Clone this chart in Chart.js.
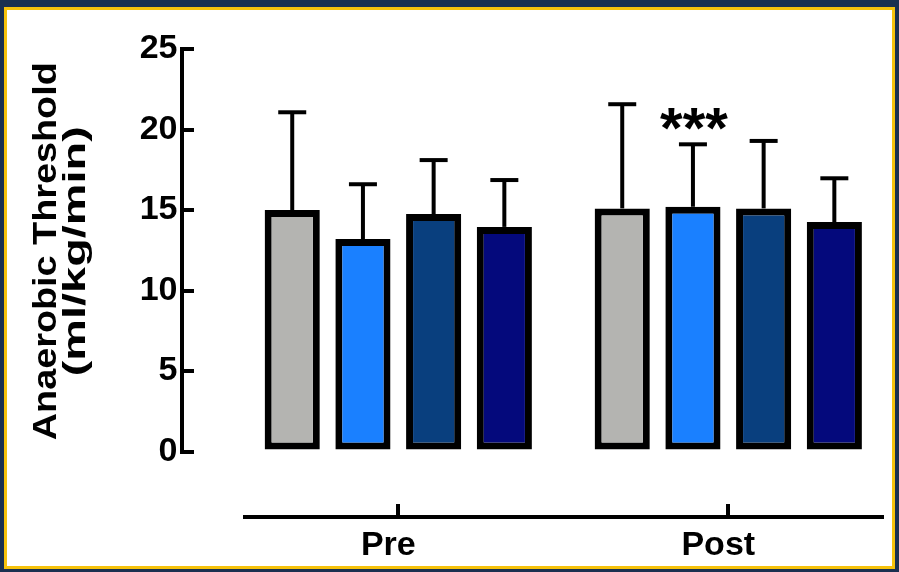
<!DOCTYPE html>
<html>
<head>
<meta charset="utf-8">
<script src="https://cdn.jsdelivr.net/npm/chart.js@4.4.1/dist/chart.umd.min.js"></script>
<style>
  html, body { margin: 0; padding: 0; }
  body { width: 899px; height: 572px; background: #1a3050; position: relative; overflow: hidden; }
  #frame { position: absolute; left: 4px; top: 7px; width: 891px; height: 562px; box-sizing: border-box;
           border: 3px solid #f6c20c; background: #ffffff; }
  #chart { position: absolute; left: 0; top: 0; }
</style>
</head>
<body>
<div id="frame"></div>
<canvas id="chart" width="899" height="572"></canvas>
<script>
// Time points on the x axis
const categories = ['Pre', 'Post'];

// Group means (ml/kg/min) at Pre and Post
const meanGrey     = [15.0, 15.1];
const meanBlue     = [13.2, 15.2];
const meanMidBlue  = [14.75, 15.1];
const meanNavy     = [13.95, 14.25];

// Standard deviations (upper error bars)
const sdGrey     = [6.07, 6.47];
const sdBlue     = [3.4, 3.88];
const sdMidBlue  = [3.35, 4.19];
const sdNavy     = [2.91, 2.72];

const seriesNames = ['Group 1', 'Group 2', 'Group 3', 'Group 4'];
const seriesColors = ['#b4b4b1', '#1a80ff', '#093f7e', '#04097c'];

// y axis range, tick step and title
const yMin = 0;
const yMax = 25;
const yStep = 5;
const yTitle = ['Anaerobic Threshold', '(ml/kg/min)'];

// significance marks: series index, category index, text
const marks = [{ series: 1, category: 1, text: '***' }];

const means = [meanGrey, meanBlue, meanMidBlue, meanNavy];
const sds = [sdGrey, sdBlue, sdMidBlue, sdNavy];

const FONT = "'Liberation Sans', Arial, sans-serif";

const datasets = means.map((m, i) => ({
  label: seriesNames[i],
  data: m.map((v, j) => ({ x: j, y: v })),
  backgroundColor: seriesColors[i],
  borderColor: '#000000',
  borderWidth: 7,
  borderSkipped: false,
  xAxisID: 'x',
  yAxisID: 'y'
}));

// Upper error bars with caps, plus the significance asterisks
const errorBars = {
  id: 'errorBars',
  afterDatasetsDraw(chart) {
    const ctx = chart.ctx;
    const yScale = chart.scales.y;
    ctx.save();
    ctx.strokeStyle = '#000000';
    ctx.lineWidth = 4;
    ctx.lineCap = 'butt';
    datasets.forEach((ds, i) => {
      const meta = chart.getDatasetMeta(i);
      meta.data.forEach((bar, j) => {
        const top = yScale.getPixelForValue(means[i][j] + sds[i][j]);
        ctx.beginPath();
        ctx.moveTo(bar.x, bar.y);
        ctx.lineTo(bar.x, top);
        ctx.stroke();
        ctx.beginPath();
        ctx.moveTo(bar.x - 14, top);
        ctx.lineTo(bar.x + 14, top);
        ctx.stroke();
      });
    });
    ctx.fillStyle = '#000000';
    ctx.font = 'bold 58px ' + FONT;
    ctx.textAlign = 'center';
    ctx.textBaseline = 'middle';
    marks.forEach(mk => {
      const bar = chart.getDatasetMeta(mk.series).data[mk.category];
      const top = yScale.getPixelForValue(means[mk.series][mk.category] + sds[mk.series][mk.category]);
      ctx.fillText(mk.text, bar.x + 1, top - 12);
    });
    ctx.restore();
  }
};

// Two-line rotated y-axis title, centred on the plot height
const yAxisTitle = {
  id: 'yAxisTitle',
  afterDraw(chart) {
    const ctx = chart.ctx;
    const area = chart.chartArea;
    const cy = (area.top + area.bottom) / 2 + 1;
    const lines = [
      { text: yTitle[0], size: 34, length: 378, baseX: 56 },
      { text: yTitle[1], size: 32, length: 250, baseX: 85 }
    ];
    ctx.save();
    ctx.fillStyle = '#000000';
    ctx.textAlign = 'center';
    ctx.textBaseline = 'alphabetic';
    lines.forEach(l => {
      ctx.font = 'bold ' + l.size + 'px ' + FONT;
      const stretch = l.length / ctx.measureText(l.text).width;
      ctx.save();
      ctx.translate(l.baseX, cy);
      ctx.rotate(-Math.PI / 2);
      ctx.scale(stretch, 1);
      ctx.fillText(l.text, 0, 0);
      ctx.restore();
    });
    ctx.restore();
  }
};

new Chart(document.getElementById('chart'), {
  type: 'bar',
  data: { datasets },
  options: {
    responsive: false,
    animation: false,
    events: [],
    categoryPercentage: 0.857,
    barPercentage: 0.78,
    layout: { padding: { left: 245, top: 49, right: 17, bottom: 120.5 } },
    plugins: {
      legend: { display: false },
      tooltip: { enabled: false },
      title: { display: false }
    },
    scales: {
      x: {
        type: 'linear',
        axis: 'x',
        offset: false,
        position: { y: -4.07 },
        min: -0.4645,
        max: 1.4658,
        border: { display: true, color: '#000000', width: 4 },
        grid: { offset: false, drawOnChartArea: false, drawTicks: true, tickLength: -15, lineWidth: 4, color: '#000000' },
        ticks: {
          stepSize: 1,
          includeBounds: false,
          padding: 23,
          labelOffset: -10,
          color: '#000000',
          font: { family: FONT, weight: 'bold', size: 34 },
          callback: (v) => categories[v] ?? ''
        }
      },
      y: {
        type: 'linear',
        axis: 'y',
        position: { x: -0.655 },
        min: yMin,
        max: yMax,
        border: { display: true, color: '#000000', width: 4 },
        grid: { drawOnChartArea: false, drawTicks: true, tickLength: -14, lineWidth: 4, color: '#000000' },
        ticks: { stepSize: yStep, display: false }
      },
      yLabels: {
        type: 'linear',
        axis: 'y',
        position: { x: -0.669 },
        min: yMin,
        max: yMax,
        border: { display: false },
        grid: { display: false, drawTicks: false },
        ticks: {
          stepSize: yStep,
          color: '#000000',
          font: { family: FONT, weight: 'bold', size: 34 }
        }
      }
    }
  },
  plugins: [errorBars, yAxisTitle]
});
</script>
</body>
</html>
